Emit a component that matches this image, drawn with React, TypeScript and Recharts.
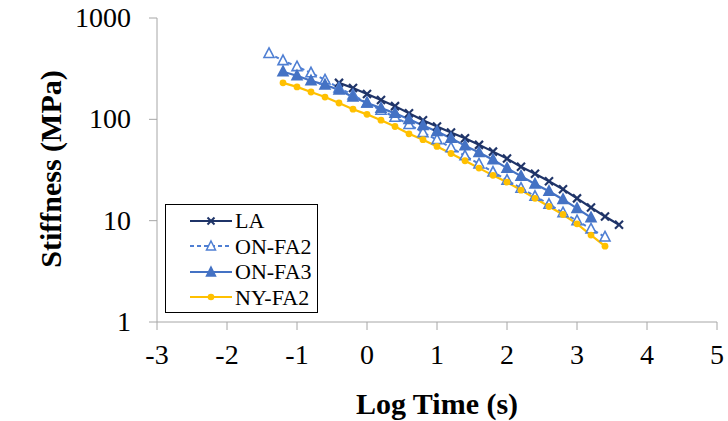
import { LineChart, Line, XAxis, YAxis, Legend } from 'recharts';

const FONT = 'Liberation Serif';

// log time (s) / stiffness (MPa)
const laX = [-0.4, -0.2, 0, 0.2, 0.4, 0.6, 0.8, 1.0, 1.2, 1.4, 1.6, 1.8, 2.0, 2.2, 2.4, 2.6, 2.8, 3.0, 3.2, 3.4, 3.6];
const laY = [229, 204, 178, 155, 135, 115, 98, 85, 74, 65, 56, 48, 41, 34, 29, 24.5, 20.4, 16.6, 13.5, 11, 9.1];

const onFa2X = [-1.4, -1.2, -1.0, -0.8, -0.6, -0.4, -0.2, 0, 0.2, 0.4, 0.6, 0.8, 1.0, 1.2, 1.4, 1.6, 1.8, 2.0, 2.2, 2.4, 2.6, 2.8, 3.0, 3.2, 3.4];
const onFa2Y = [447, 380, 331, 288, 245, 204, 174, 145, 123, 105, 89, 74, 63, 52.5, 43.7, 36.3, 30.2, 25.1, 20.9, 17.4, 14.5, 12, 10, 8.3, 6.9];

const onFa3X = [-1.2, -1.0, -0.8, -0.6, -0.4, -0.2, 0, 0.2, 0.4, 0.6, 0.8, 1.0, 1.2, 1.4, 1.6, 1.8, 2.0, 2.2, 2.4, 2.6, 2.8, 3.0, 3.2];
const onFa3Y = [295, 269, 240, 219, 195, 166, 145, 129, 115, 100, 87, 76, 65, 55, 47, 40, 33, 27.5, 23, 19.5, 16.2, 13.2, 10.7];

const nyFa2X = [-1.2, -1.0, -0.8, -0.6, -0.4, -0.2, 0, 0.2, 0.4, 0.6, 0.8, 1.0, 1.2, 1.4, 1.6, 1.8, 2.0, 2.2, 2.4, 2.6, 2.8, 3.0, 3.2, 3.4];
const nyFa2Y = [229, 209, 186, 166, 145, 126, 112, 98, 85, 72, 63, 54, 46, 39, 33, 28, 24, 20, 16.6, 13.8, 11.5, 9.3, 7.2, 5.6];

const xTicks = [-3, -2, -1, 0, 1, 2, 3, 4, 5];
const yTicks = [1, 10, 100, 1000];

const toPoints = (xs: number[], ys: number[]) => xs.map((x, i) => ({ x, y: ys[i] }));

const C_LA = '#1f3468';
const C_FA2 = '#4f7fd3';
const C_FA3 = '#4472c4';
const C_NY = '#ffc000';

const xMark = (color: string) => (p: any) => {
  const { cx, cy, index } = p;
  if (cx == null || cy == null) return <g key={`x${index}`} />;
  return (
    <g key={`x${index}`} stroke={color} strokeWidth={2.2}>
      <line x1={cx - 4} y1={cy - 4} x2={cx + 4} y2={cy + 4} />
      <line x1={cx - 4} y1={cy + 4} x2={cx + 4} y2={cy - 4} />
    </g>
  );
};

const triMark = (color: string, filled: boolean) => (p: any) => {
  const { cx, cy, index } = p;
  if (cx == null || cy == null) return <g key={`t${index}`} />;
  return (
    <path
      key={`t${index}`}
      d={`M${cx},${cy - 5.5} L${cx + 5},${cy + 4} L${cx - 5},${cy + 4} Z`}
      fill={filled ? color : '#fff'}
      stroke={color}
      strokeWidth={1.6}
    />
  );
};

const dotMark = (color: string) => (p: any) => {
  const { cx, cy, index } = p;
  if (cx == null || cy == null) return <g key={`c${index}`} />;
  return <circle key={`c${index}`} cx={cx} cy={cy} r={3.4} fill={color} />;
};

// tick labels drawn as plain svg text so the serif font sticks
const xTick = (p: any) => (
  <text x={p.x} y={p.y} dy={20} textAnchor="middle" fontFamily={FONT} fontSize={28} fill="#000">
    {p.payload.value}
  </text>
);

const yTick = (p: any) => (
  <text x={p.x} y={p.y} dy={9} textAnchor="end" fontFamily={FONT} fontSize={28} fill="#000">
    {p.payload.value}
  </text>
);

const series = [
  { name: 'LA', color: C_LA, dash: undefined, mark: 'x' },
  { name: 'ON-FA2', color: C_FA2, dash: '4 3', mark: 'open' },
  { name: 'ON-FA3', color: C_FA3, dash: undefined, mark: 'tri' },
  { name: 'NY-FA2', color: C_NY, dash: undefined, mark: 'dot' },
];

const legendMark = (mark: string, color: string) => {
  const cx = 21;
  const cy = 7;
  if (mark === 'x')
    return (
      <g stroke={color} strokeWidth={2}>
        <line x1={cx - 3.5} y1={cy - 3.5} x2={cx + 3.5} y2={cy + 3.5} />
        <line x1={cx - 3.5} y1={cy + 3.5} x2={cx + 3.5} y2={cy - 3.5} />
      </g>
    );
  if (mark === 'dot') return <circle cx={cx} cy={cy} r={3.3} fill={color} />;
  return (
    <path
      d={`M${cx},${cy - 5} L${cx + 4.5},${cy + 4} L${cx - 4.5},${cy + 4} Z`}
      fill={mark === 'tri' ? color : '#fff'}
      stroke={color}
      strokeWidth={1.5}
    />
  );
};

const renderLegend = () => (
  <div
    style={{
      border: '1.5px solid #000',
      width: 153,
      height: 109,
      boxSizing: 'border-box',
      background: '#fff',
      padding: '3px 0 0 24px',
      color: '#000',
    }}
  >
    {series.map((s) => (
      <div key={s.name} style={{ display: 'flex', alignItems: 'center', height: 25.5 }}>
        <svg width={43} height={14} style={{ marginRight: 2 }}>
          <line x1={0} y1={7} x2={42} y2={7} stroke={s.color} strokeWidth={2} strokeDasharray={s.dash} />
          {legendMark(s.mark, s.color)}
        </svg>
        <span style={{ lineHeight: '25px', fontFamily: FONT, fontSize: 22 }}>{s.name}</span>
      </div>
    ))}
  </div>
);

export default function App() {
  return (
    <div style={{ position: 'absolute', left: 0, top: 0, width: 728, height: 421, background: '#fff', fontFamily: FONT }}>
      <LineChart width={728} height={421} margin={{ top: 18, right: 11, left: 0, bottom: 0 }}>
        <XAxis
          type="number"
          dataKey="x"
          domain={[-3, 5]}
          ticks={xTicks}
          interval={0}
          height={99}
          stroke="#a6a6a6"
          tickSize={8}
          tickMargin={14}
          tick={xTick}
          label={{
            content: () => (
              <text x={437} y={403} textAnchor="middle" dominantBaseline="central" fontFamily={FONT} fontSize={30} fontWeight="bold" fill="#000">
                Log Time (s)
              </text>
            ),
          }}
        />
        <YAxis
          type="number"
          dataKey="y"
          scale="log"
          domain={[1, 1000]}
          ticks={yTicks}
          interval={0}
          allowDataOverflow
          width={157}
          stroke="#a6a6a6"
          tickSize={8}
          tickMargin={18}
          tick={yTick}
          label={{
            content: () => (
              <text
                x={50}
                y={169}
                transform="rotate(-90 50 169)"
                textAnchor="middle"
                dominantBaseline="central"
                fontFamily={FONT}
                fontSize={30}
                fontWeight="bold"
                fill="#000"
              >
                Stiffness (MPa)
              </text>
            ),
          }}
        />
        <Legend
          layout="vertical"
          align="center"
          verticalAlign="middle"
          content={renderLegend}
          wrapperStyle={{ position: 'absolute', left: 165, top: 204, width: 153, height: 109 }}
        />
        <Line data={toPoints(laX, laY)} dataKey="y" name="LA" stroke={C_LA} strokeWidth={2.2} dot={xMark(C_LA)} isAnimationActive={false} />
        <Line data={toPoints(onFa2X, onFa2Y)} dataKey="y" name="ON-FA2" stroke={C_FA2} strokeWidth={2} strokeDasharray="4 3" dot={triMark(C_FA2, false)} isAnimationActive={false} />
        <Line data={toPoints(onFa3X, onFa3Y)} dataKey="y" name="ON-FA3" stroke={C_FA3} strokeWidth={2.2} dot={triMark(C_FA3, true)} isAnimationActive={false} />
        <Line data={toPoints(nyFa2X, nyFa2Y)} dataKey="y" name="NY-FA2" stroke={C_NY} strokeWidth={2.2} dot={dotMark(C_NY)} isAnimationActive={false} />
      </LineChart>
    </div>
  );
}
